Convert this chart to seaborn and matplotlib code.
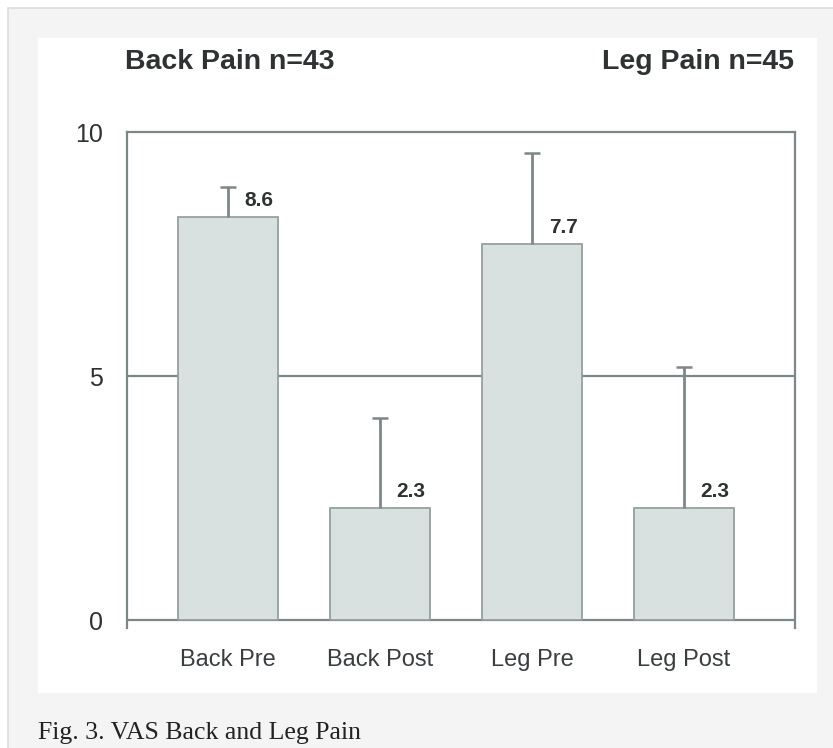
import matplotlib
matplotlib.use("Agg")
import matplotlib.pyplot as plt
from matplotlib.patches import Rectangle
import seaborn as sns
import pandas as pd

# values
groups = ['Back Pre', 'Back Post', 'Leg Pre', 'Leg Post']
means = [8.25, 2.3, 7.7, 2.3]
err_up = [0.63, 1.84, 1.87, 2.88]
labels = ['8.6', '2.3', '7.7', '2.3']
panel_titles = ['Back Pain n=43', 'Leg Pain n=45']
y_ticks = [0, 5, 10]

df = pd.DataFrame({'Group': groups, 'VAS': means})

line_c = '#7b8887'
bar_c = '#d9e1e0'
bar_edge = '#8f9a99'
text_c = '#2e3233'

sns.set_style('white')
plt.rcParams['font.family'] = ['Liberation Sans', 'DejaVu Sans']

fig = plt.figure(figsize=(8.33, 7.48), dpi=100, facecolor='white')

# page-like background and white panel
fig.patches.append(Rectangle((8 / 833, -0.01), 1.0, 1 - 8 / 748 + 0.01, transform=fig.transFigure,
                             facecolor='#f4f4f4', edgecolor='#dddddd', lw=1.2, zorder=-3))
fig.patches.append(Rectangle((38 / 833, 1 - 693 / 748), 779 / 833, 655 / 748, transform=fig.transFigure,
                             facecolor='white', edgecolor='none', zorder=-2))

ax = fig.add_axes([127 / 833, 1 - 628 / 748, 668 / 833, 496 / 748])
ax.set_facecolor('none')

sns.barplot(data=df, x='Group', y='VAS', color=bar_c, edgecolor=bar_edge,
            linewidth=1.2, width=0.66, ax=ax, zorder=3, saturation=1)

xs = list(range(len(groups)))
eb = ax.errorbar(xs, means, yerr=[[0] * len(means), err_up], fmt='none',
                 ecolor=line_c, elinewidth=2, capsize=5.5, capthick=1.8, zorder=4)
# only the upper caps are drawn in the original
eb[1][0].set_visible(False)

for x, m, lab in zip(xs, means, labels):
    ax.annotate(lab, (x, m), xytext=(12, 5), textcoords='offset points',
                ha='left', va='bottom', fontsize=15, fontweight='bold', color=text_c)

# gridlines at 0 and 5
ax.axhline(0, color=line_c, lw=1.6, zorder=2)
ax.axhline(5, color=line_c, lw=1.6, zorder=1)

ax.set_xlim(-0.664, 3.73)
ax.set_ylim(-0.16, 10)
ax.set_yticks(y_ticks)
ax.set_xlabel('')
ax.set_ylabel('')

for side in ['left', 'right', 'top']:
    ax.spines[side].set_color(line_c)
    ax.spines[side].set_linewidth(1.6)
ax.spines['bottom'].set_visible(False)

ax.tick_params(axis='y', length=5.5, width=1.6, color=line_c, pad=12,
               labelsize=18, labelcolor=text_c)
ax.tick_params(axis='x', length=0, pad=15, labelsize=17, labelcolor='#3a3e3f')

fig.text(125 / 833, 1 - 62 / 748, panel_titles[0], ha='left', va='center',
         fontsize=20.5, fontweight='bold', color=text_c)
fig.text(794 / 833, 1 - 62 / 748, panel_titles[1], ha='right', va='center',
         fontsize=20.5, fontweight='bold', color=text_c)

fig.text(38 / 833, 1 - 739 / 748, 'Fig. 3. VAS Back and Leg Pain', ha='left', va='baseline',
         fontsize=18.5, color='#222222', family=['Liberation Serif', 'DejaVu Serif'])

fig.savefig('out.png', dpi=100, facecolor=fig.get_facecolor())
